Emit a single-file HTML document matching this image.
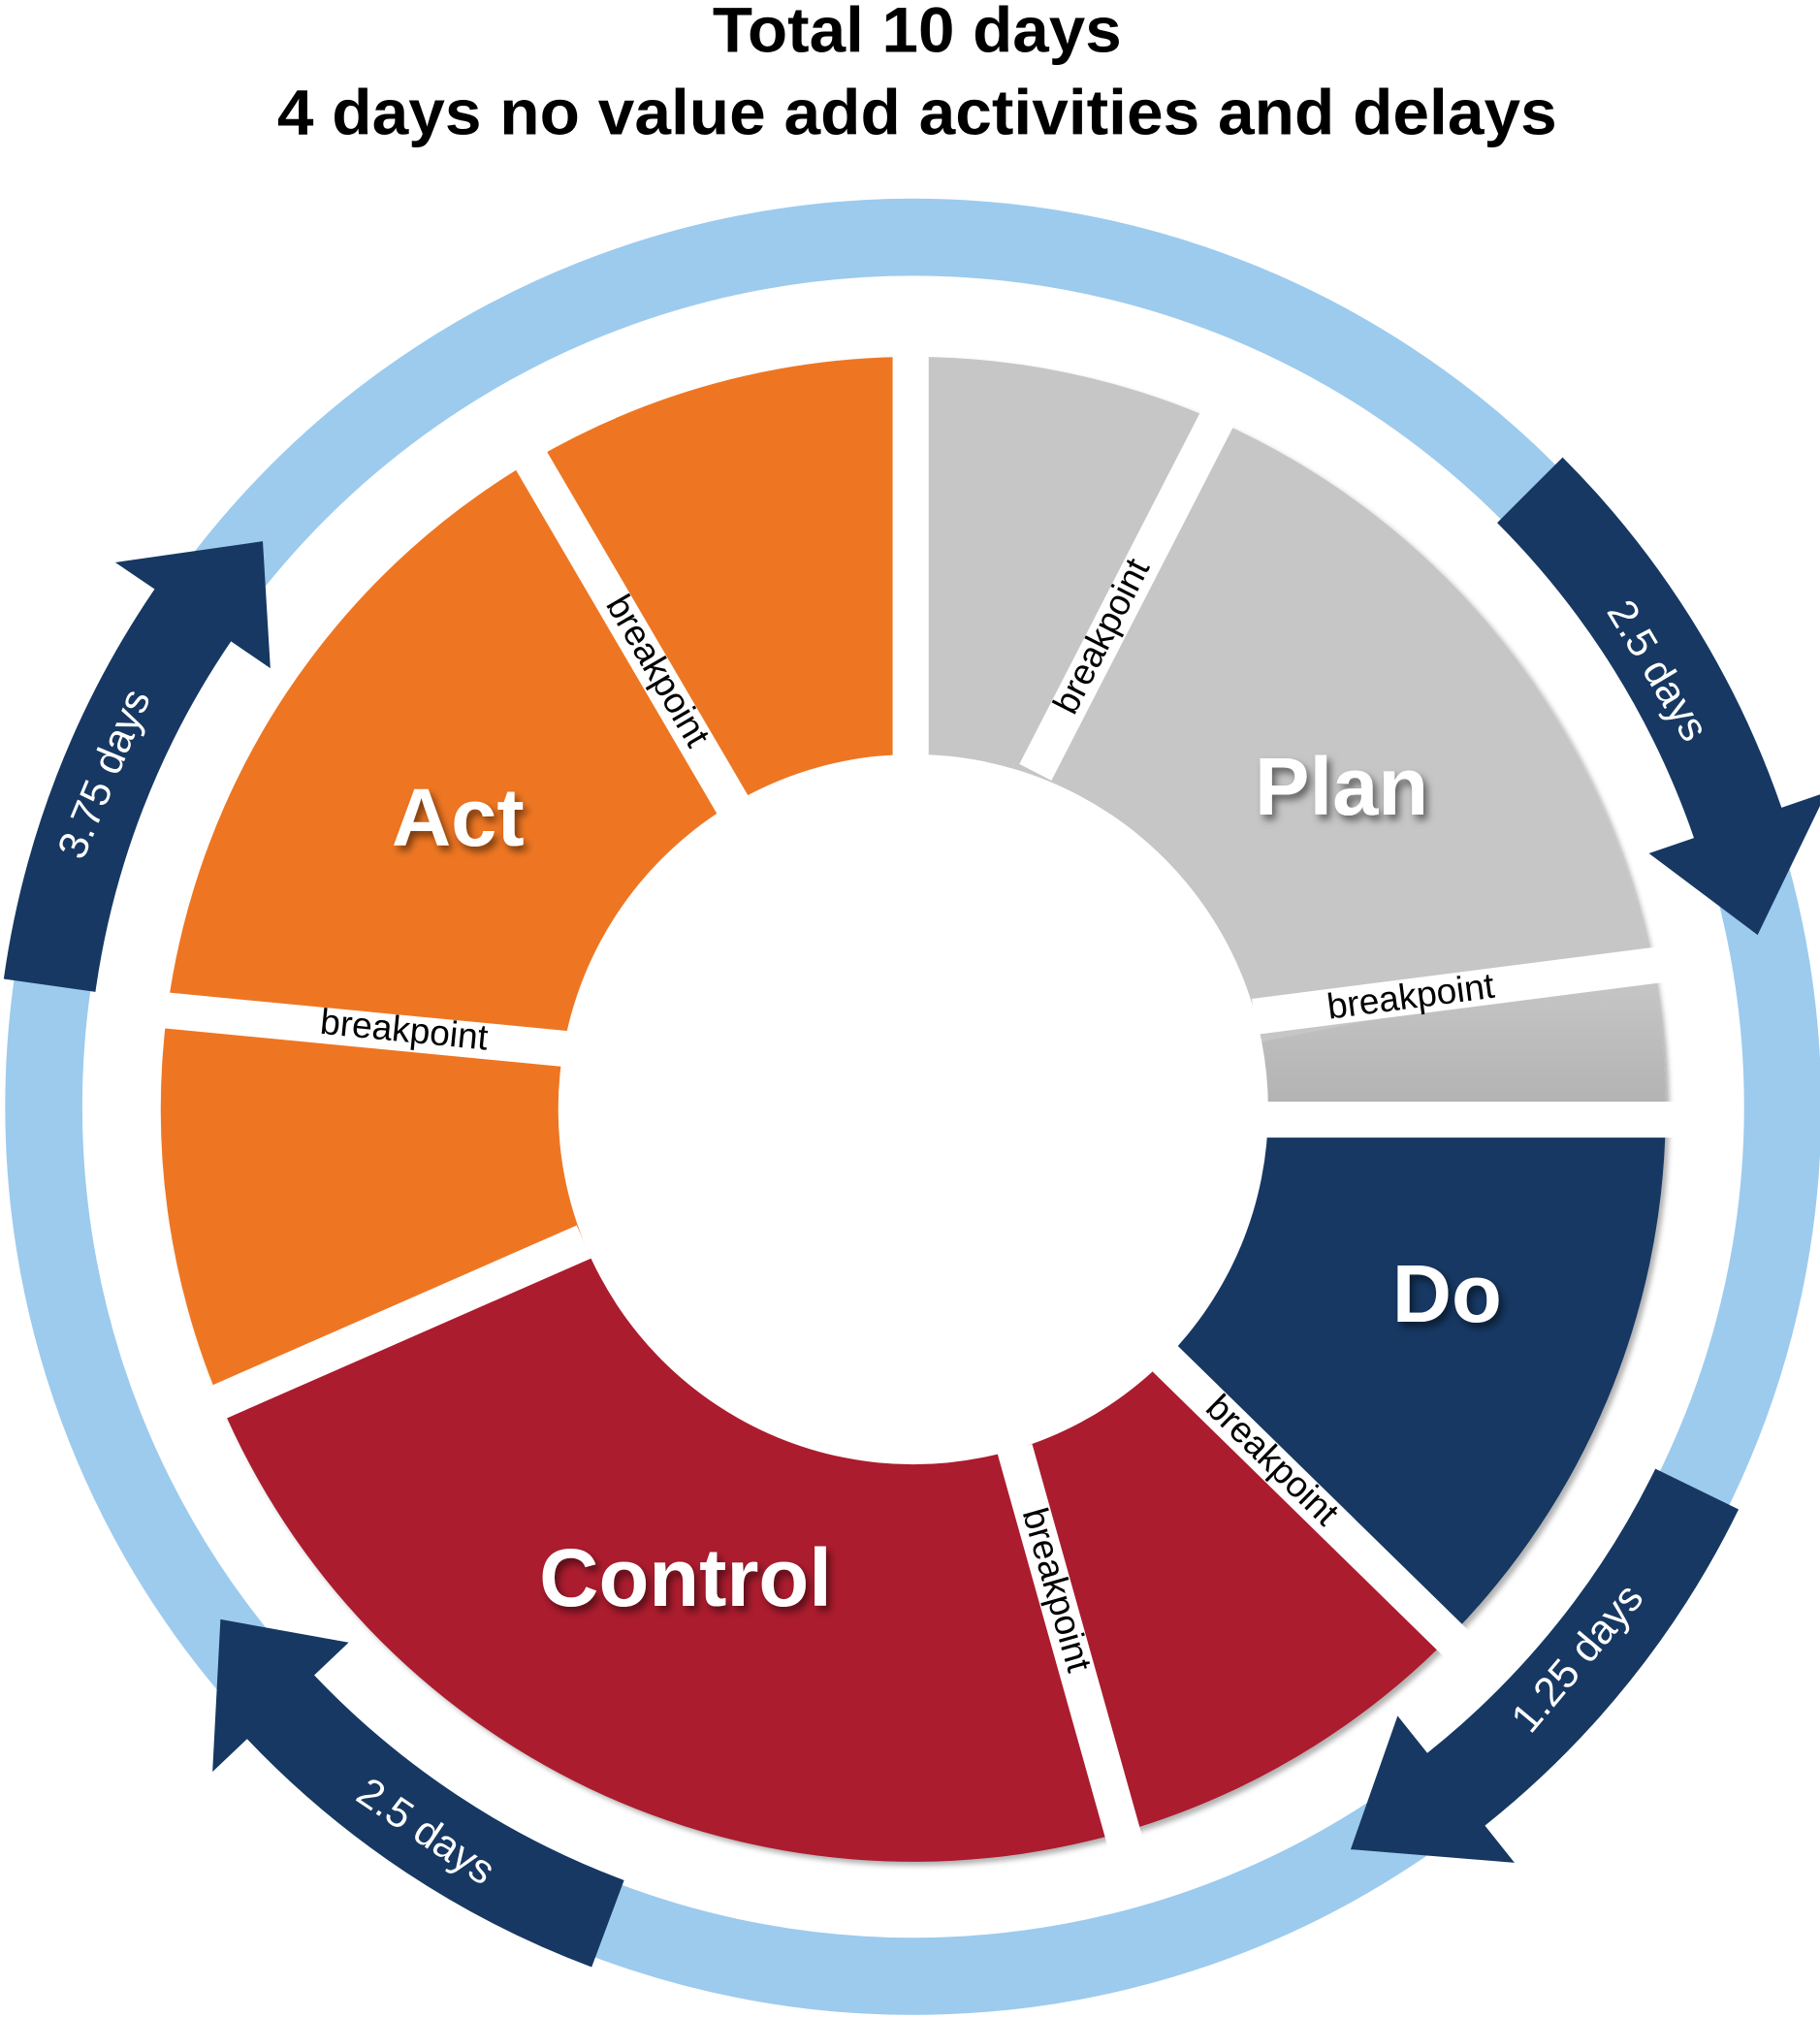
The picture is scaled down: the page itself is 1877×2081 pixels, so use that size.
<!DOCTYPE html>
<html><head><meta charset="utf-8"><style>
html,body{margin:0;padding:0;background:#fff;}
svg{display:block;}
text{font-family:"Liberation Sans",sans-serif;}
</style></head><body>
<svg id="s" width="1877" height="2081" viewBox="0 0 1415 1568" xmlns="http://www.w3.org/2000/svg">
<defs>
<filter id="sh" x="-10%" y="-10%" width="120%" height="120%"><feDropShadow dx="3" dy="3" stdDeviation="2" flood-color="#000" flood-opacity="0.3"/></filter>
<filter id="ts" x="-10%" y="-20%" width="120%" height="140%"><feDropShadow dx="3" dy="4" stdDeviation="3" flood-color="#000" flood-opacity="0.5"/></filter>
<linearGradient id="gg" x1="0" y1="0" x2="0" y2="1"><stop offset="0" stop-color="#c8c8c8"/><stop offset="1" stop-color="#b0b0b0"/></linearGradient>
</defs>
<text x="713" y="40" font-size="50" text-anchor="middle" fill="#000" font-weight="bold" textLength="318" lengthAdjust="spacingAndGlyphs">Total 10 days</text>
<text x="713" y="104" font-size="50" text-anchor="middle" fill="#000" font-weight="bold" textLength="995" lengthAdjust="spacingAndGlyphs">4 days no value add activities and delays</text>
<circle cx="710" cy="860" r="676" fill="none" stroke="#9ccbee" stroke-width="60"/>
<g id="segs" filter="url(#sh)"></g>
<g id="gaps"></g>
<g id="arrows"></g>
<g font-size="28" fill="#000">
<text transform="translate(510,522) rotate(59.7)" text-anchor="middle" dominant-baseline="middle">breakpoint</text>
<text transform="translate(858,495) rotate(-63)" text-anchor="middle" dominant-baseline="middle">breakpoint</text>
<text transform="translate(1097,776) rotate(-7.4)" text-anchor="middle" dominant-baseline="middle">breakpoint</text>
<text transform="translate(988,1136) rotate(44.4)" text-anchor="middle" dominant-baseline="middle">breakpoint</text>
<text transform="translate(820,1236) rotate(74)" text-anchor="middle" dominant-baseline="middle">breakpoint</text>
<text transform="translate(314,802) rotate(5.6)" text-anchor="middle" dominant-baseline="middle">breakpoint</text>
</g>
<g font-size="64" font-weight="bold" fill="#fff" filter="url(#ts)" text-anchor="middle">
<text x="1043" y="633">Plan</text>
<text x="356" y="657">Act</text>
<text x="1125" y="1027">Do</text>
<text x="533" y="1248">Control</text>
</g>
<g font-size="32" fill="#fff" text-anchor="middle" dominant-baseline="middle">
<text transform="translate(1287,522) rotate(59)">2.5 days</text>
<text transform="translate(1228,1290) rotate(-50)">1.25 days</text>
<text transform="translate(330,1425) rotate(34)">2.5 days</text>
<text transform="translate(83,602) rotate(-67.5)">3.75 days</text>
</g>
</svg>
<script>
var cx=710,cy=862,NS="http://www.w3.org/2000/svg";
function P(a,r){var t=a*Math.PI/180;return [cx+r*Math.sin(t),cy-r*Math.cos(t)];}
function f(p){return p[0].toFixed(1)+","+p[1].toFixed(1);}
function add(g,tag,attrs){var e=document.createElementNS(NS,tag);for(var k in attrs)e.setAttribute(k,attrs[k]);document.getElementById(g).appendChild(e);}
function sector(a0,a1,r0,r1,c){
 var lg=(a1-a0)>180?1:0;
 var d="M"+f(P(a0,r1))+" A"+r1+","+r1+" 0 "+lg+" 1 "+f(P(a1,r1))+" L"+f(P(a1,r0))+" A"+r0+","+r0+" 0 "+lg+" 0 "+f(P(a0,r0))+"Z";
 add("segs","path",{d:d,fill:c});
}
var segs=[[0,23.6,"#c6c6c6"],[23.6,79,"#c6c6c6"],[79,91,"url(#gg)"],[91,134.5,"#163863"],[134.5,164,"#ab1e2f"],[164,247,"#ab1e2f"],[247,277.6,"#ee7623"],[277.6,329.5,"#ee7623"],[329.5,360,"#ee7623"]];
segs.forEach(function(s){sector(s[0],s[1],275,585,s[2]);});
var gaps=[[708,600,708,260],[805,600,950,318],[975,790,1310,747],[975,870,1310,870],[905,1055,1140,1285],[789,1126,876,1436],[454,965,160,1094],[440,815,118,784],[570,626,408,349]];
gaps.forEach(function(g){add("gaps","line",{x1:g[0],y1:g[1],x2:g[2],y2:g[3],stroke:"#fff","stroke-width":28});});
add("gaps","circle",{cx:cx,cy:cy,r:276,fill:"#fff"});
cy=860;
function arrow(a0,ab,at,rc,w,hw){
 var ro=rc+w/2,ri=rc-w/2;
 var d="M"+f(P(a0,ro))+" A"+ro+","+ro+" 0 0 1 "+f(P(ab,ro))+" L"+f(P(ab,rc+hw/2))+" L"+f(P(at,rc-8))+" L"+f(P(ab,rc-hw/2))+" L"+f(P(ab,ri))+" A"+ri+","+ri+" 0 0 0 "+f(P(a0,ri))+"Z";
 add("arrows","path",{d:d,fill:"#163863"});
}
arrow(45,71,78.5,678,72,146);
arrow(116,141.5,149.5,678,72,146);
arrow(200.5,226.5,233.5,678,72,146);
arrow(278,304.3,311,678,72,146);
</script>
</body></html>
